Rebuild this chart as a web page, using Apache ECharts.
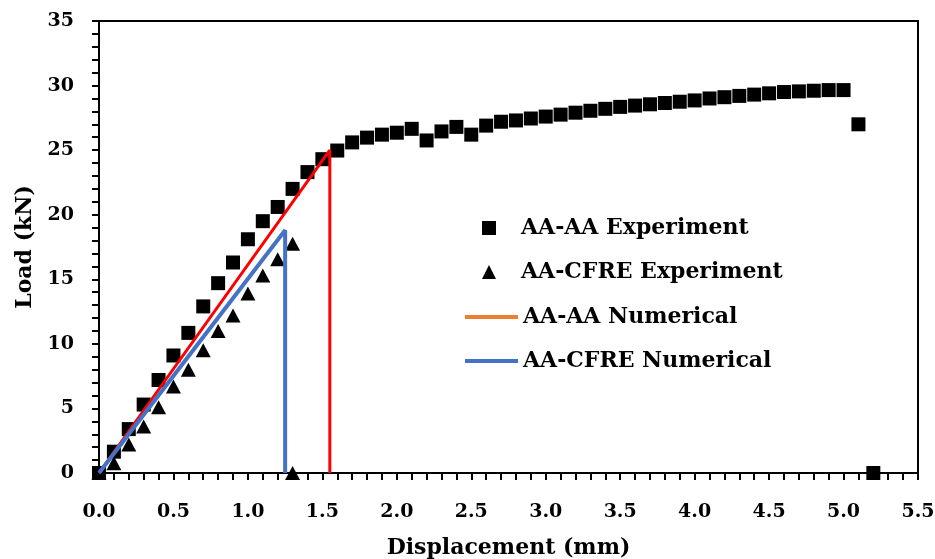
<!DOCTYPE html>
<html>

<head>
    <meta charset="utf-8">
    <script src="https://cdn.jsdelivr.net/npm/echarts@6/dist/echarts.min.js"></script>
    <style>
        * {
            padding: 0;
            margin: 0
        }

        body,
        html {
            height: 100%;
            width: 100%;
            background: #fff
        }

        #container {
            height: 559px;
            width: 935px
        }
    </style>
</head>

<body>
    <div id="container"></div>
</body>
<script>
    // 试验数据 (位移 mm, 荷载 kN)
    const aaExpX = [0, 0.1, 0.2, 0.3, 0.4, 0.5, 0.6, 0.7, 0.8, 0.9, 1.0, 1.1, 1.2, 1.3, 1.4, 1.5, 1.6, 1.7, 1.8, 1.9,
        2.0, 2.1, 2.2, 2.3, 2.4, 2.5, 2.6, 2.7, 2.8, 2.9, 3.0, 3.1, 3.2, 3.3, 3.4, 3.5, 3.6, 3.7, 3.8, 3.9,
        4.0, 4.1, 4.2, 4.3, 4.4, 4.5, 4.6, 4.7, 4.8, 4.9, 5.0, 5.1, 5.2];
    const aaExpY = [0, 1.65, 3.4, 5.3, 7.2, 9.1, 10.85, 12.9, 14.7, 16.3, 18.1, 19.5, 20.6, 22.0, 23.3, 24.3, 24.97, 25.6, 25.97, 26.2,
        26.35, 26.65, 25.75, 26.45, 26.8, 26.2, 26.9, 27.2, 27.3, 27.45, 27.6, 27.75, 27.9, 28.05, 28.2, 28.35, 28.45, 28.55, 28.65, 28.75,
        28.85, 29.0, 29.1, 29.2, 29.3, 29.4, 29.5, 29.55, 29.6, 29.65, 29.65, 27.0, 0];

    const cfreExpX = [0, 0.1, 0.2, 0.3, 0.4, 0.5, 0.6, 0.7, 0.8, 0.9, 1.0, 1.1, 1.2, 1.3, 1.3];
    const cfreExpY = [0, 0.75, 2.2, 3.6, 5.1, 6.7, 8.0, 9.5, 11.0, 12.2, 13.9, 15.3, 16.55, 17.75, 0];

    // 数值模拟
    const aaNumX = [0, 1.55, 1.55];
    const aaNumY = [0, 25.0, 0];
    const cfreNumX = [0, 1.25, 1.25];
    const cfreNumY = [0, 18.8, 0];

    const xTicks = ['0.0', '0.5', '1.0', '1.5', '2.0', '2.5', '3.0', '3.5', '4.0', '4.5', '5.0', '5.5'];

    const pairs = (xs, ys) => xs.map((x, i) => [x, ys[i]]);
    const font = 'DejaVu Serif';
    const legendText = { fontFamily: font, fontWeight: 'bold', fontSize: 22, color: '#000', lineHeight: 22 };
    const hideDot = { color: 'rgba(0,0,0,0)', borderWidth: 0 };

    const container = document.getElementById('container');
    let myChart = echarts.init(container);

    const option = {
        animation: false,
        textStyle: { fontFamily: font, fontWeight: 'bold', color: '#000' },
        grid: {
            left: 99, top: 21, width: 819, height: 452,
            outerBoundsMode: 'none',
            containLabel: false,
            show: true, borderColor: '#000', borderWidth: 2
        },
        legend: [
            {
                // 试验点图例
                orient: 'vertical',
                left: 477,
                top: 212,
                itemWidth: 14,
                itemHeight: 14,
                itemGap: 22,
                textStyle: Object.assign({ padding: [0, 0, 0, 20] }, legendText),
                data: ['AA-AA Experiment', 'AA-CFRE Experiment']
            },
            {
                // 数值模拟图例
                orient: 'vertical',
                left: 458,
                top: 301,
                itemWidth: 53,
                itemHeight: 14,
                itemGap: 22,
                textStyle: legendText,
                data: [
                    { name: 'AA-AA Numerical', lineStyle: { color: '#ED7D31', width: 4 }, itemStyle: hideDot },
                    { name: 'AA-CFRE Numerical', lineStyle: { color: '#4472C4', width: 4 }, itemStyle: hideDot }
                ]
            }
        ],
        xAxis: {
            type: 'value',
            min: 0, max: 5.5, interval: 0.5,
            name: 'Displacement (mm)',
            nameLocation: 'middle',
            nameGap: 64,
            nameTextStyle: { fontFamily: font, fontWeight: 'bold', fontSize: 22, color: '#000' },
            axisLine: { show: true, lineStyle: { color: '#000', width: 2 } },
            axisTick: { show: true, length: 7, lineStyle: { color: '#000', width: 2 } },
            minorTick: { show: true, splitNumber: 5, length: 7, lineStyle: { color: '#000', width: 2 } },
            splitLine: { show: false },
            axisLabel: {
                margin: 30, fontSize: 19, fontFamily: font, fontWeight: 'bold', color: '#000',
                formatter: v => xTicks[Math.round(v / 0.5)]
            }
        },
        yAxis: {
            type: 'value',
            min: 0, max: 35, interval: 5,
            name: 'Load (kN)',
            nameLocation: 'middle',
            nameGap: 62,
            nameTextStyle: { fontFamily: font, fontWeight: 'bold', fontSize: 22, color: '#000' },
            axisLine: { show: true, lineStyle: { color: '#000', width: 2 } },
            axisTick: { show: true, length: 7, lineStyle: { color: '#000', width: 2 } },
            minorTick: { show: true, splitNumber: 5, length: 7, lineStyle: { color: '#000', width: 2 } },
            splitLine: { show: false },
            axisLabel: { margin: 25, align: 'right', fontSize: 19, fontFamily: font, fontWeight: 'bold', color: '#000' }
        },
        series: [
            {
                name: 'AA-AA Experiment',
                type: 'scatter',
                symbol: 'rect',
                symbolSize: 14,
                itemStyle: { color: '#000', opacity: 1 },
                data: pairs(aaExpX, aaExpY)
            },
            {
                name: 'AA-CFRE Experiment',
                type: 'scatter',
                symbol: 'triangle',
                symbolSize: [15, 14],
                itemStyle: { color: '#000', opacity: 1 },
                data: pairs(cfreExpX, cfreExpY)
            },
            {
                name: 'AA-AA Numerical',
                type: 'line',
                showSymbol: false,
                symbol: 'none',
                lineStyle: { color: '#FF0000', width: 3 },
                itemStyle: { color: '#FF0000' },
                data: pairs(aaNumX, aaNumY)
            },
            {
                name: 'AA-CFRE Numerical',
                type: 'line',
                showSymbol: false,
                symbol: 'none',
                lineStyle: { color: '#4472C4', width: 4 },
                itemStyle: { color: '#4472C4' },
                data: pairs(cfreNumX, cfreNumY)
            }
        ]
    };

    myChart.setOption(option);
</script>

</html>
